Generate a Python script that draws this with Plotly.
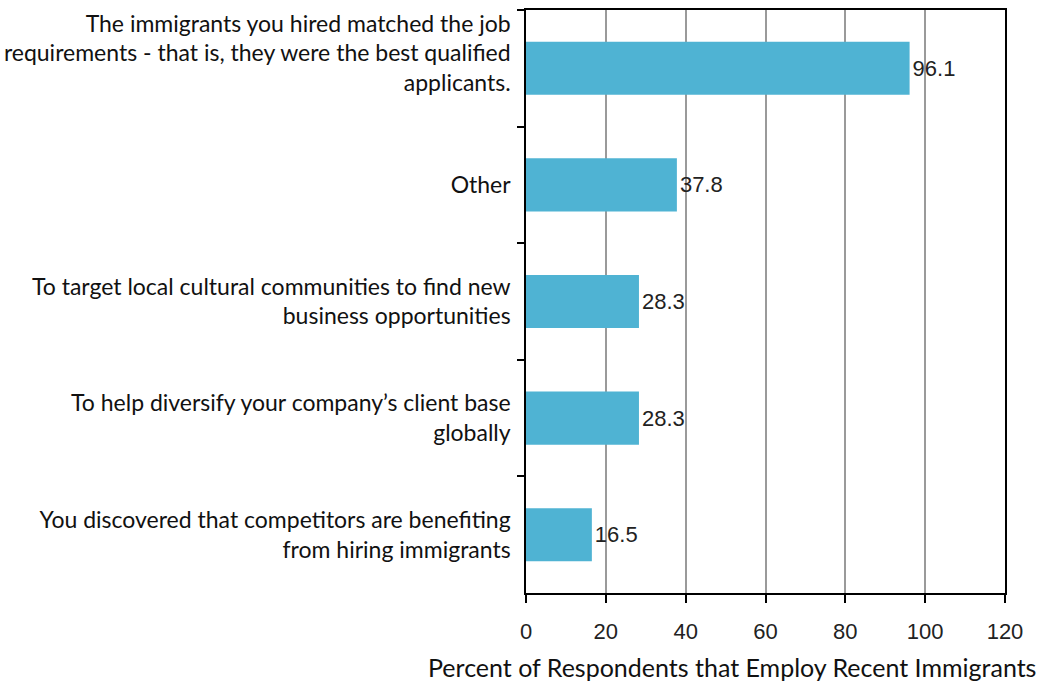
import plotly.graph_objects as go

# Reasons for hiring recent immigrants (percent of respondents)
categories = [
    "The immigrants you hired matched the job<br>requirements - that is, they were the best qualified<br>applicants.<br>\u00a0",
    "Other",
    "To target local cultural communities to find new<br>business opportunities",
    "To help diversify your company\u2019s client base<br>globally",
    "You discovered that competitors are benefiting<br>from hiring immigrants",
]
values = [96.1, 37.8, 28.3, 28.3, 16.5]
x_ticks = [0, 20, 40, 60, 80, 100, 120]
x_title = "Percent of Respondents that Employ Recent Immigrants"

fig = go.Figure(
    go.Bar(
        x=values,
        y=categories,
        orientation="h",
        width=0.455,
        marker=dict(color="#4FB3D3", line=dict(width=0)),
        text=[f"{v:.1f}" for v in values],
        textposition="outside",
        constraintext="none",
        cliponaxis=False,
        textfont=dict(family="Liberation Sans, Arial, sans-serif", size=22, color="#222222"),
    )
)

fig.update_layout(
    width=1050,
    height=681,
    margin=dict(l=526, r=45, t=10, b=88),
    plot_bgcolor="white",
    paper_bgcolor="white",
    showlegend=False,
)

fig.update_xaxes(
    range=[0, 120],
    tickvals=x_ticks,
    ticks="outside",
    ticklen=8,
    tickwidth=1.5,
    tickcolor="black",
    ticklabelstandoff=10,
    showline=True,
    linecolor="black",
    linewidth=1.5,
    mirror=True,
    showgrid=True,
    gridcolor="#9a9a9a",
    gridwidth=2,
    zeroline=False,
    automargin=False,
    tickfont=dict(family="Liberation Sans, Arial, sans-serif", size=22, color="#222222"),
)

fig.update_yaxes(
    autorange="reversed",
    categoryorder="array",
    categoryarray=categories,
    ticks="outside",
    tickson="boundaries",
    ticklen=7,
    tickwidth=1.5,
    tickcolor="black",
    ticklabelstandoff=9,
    showline=True,
    linecolor="black",
    linewidth=1.5,
    mirror=True,
    showgrid=False,
    automargin=False,
    tickfont=dict(family="Lato, Noto Sans, sans-serif", size=23, color="#111111"),
)

fig.add_annotation(
    text=x_title,
    xref="paper",
    yref="paper",
    x=0.43,
    y=-0.127,
    xanchor="center",
    yanchor="middle",
    showarrow=False,
    font=dict(family="Lato, Noto Sans, sans-serif", size=25, color="#111111"),
)

fig.write_html("out.html")
